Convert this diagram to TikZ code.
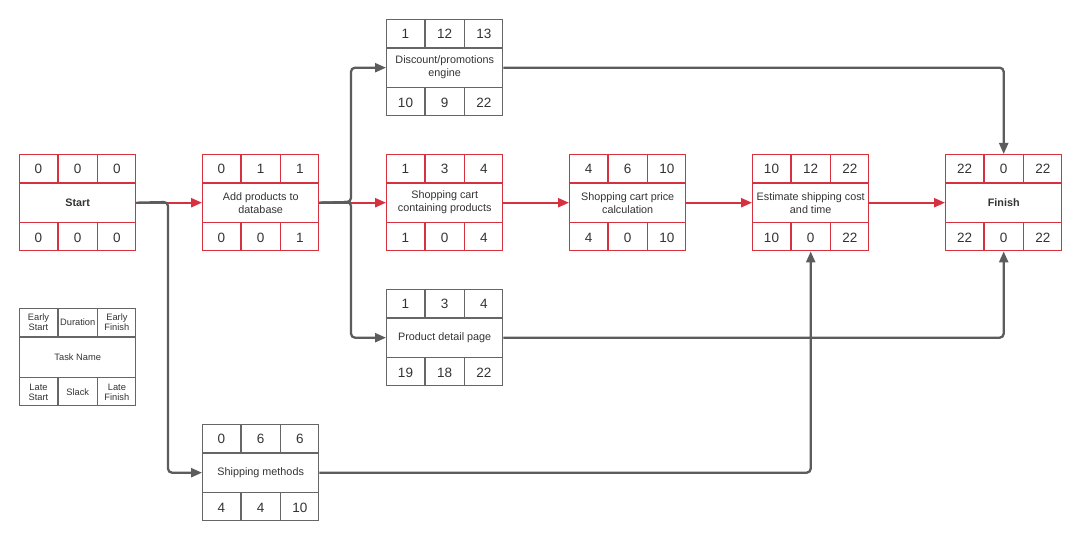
\documentclass[tikz,border=0pt]{standalone}
\usepackage{fontspec}
\setmainfont{Liberation Sans}
\usetikzlibrary{arrows.meta}
\definecolor{cred}{HTML}{D6313F}
\definecolor{cgray}{HTML}{5C5C5C}
\definecolor{cbox}{HTML}{666666}
\definecolor{ctext}{HTML}{333333}
\tikzset{
  boxframe/.style={draw=#1, line width=1.4pt, minimum width=116pt, minimum height=96pt, inner sep=0pt, anchor=north west},
  numtxt/.style={text=ctext, font=\fontsize{13.5}{15}\selectfont, inner sep=0pt},
  nametxt/.style={text=ctext, font=\fontsize{10.8}{13}\selectfont, align=center, inner sep=0pt},
  legtxt/.style={text=ctext, font=\fontsize{9.3}{10.5}\selectfont, align=center, inner sep=0pt},
  redarrow/.style={draw=cred, line width=2.3pt, -{Triangle[length=11pt,width=9pt]}},
  grayarrow/.style={draw=cgray, line width=2.3pt, rounded corners=4pt, -{Triangle[length=11pt,width=9pt]}},
}
% #1 name, #2 x, #3 y, #4 color, #5-#7 top, #8 label
\newcommand\pbox[8]{%
  \node[boxframe=#4] (#1) at (#2,#3) {};
  \draw[draw=#4, line width=1.4pt] ([yshift=-29pt]#1.north west) -- ([yshift=-29pt]#1.north east)
     ([yshift=29pt]#1.south west) -- ([yshift=29pt]#1.south east)
     ([xshift=39pt]#1.north west) -- ++(0,-29pt)
     ([xshift=-39pt]#1.north east) -- ++(0,-29pt)
     ([xshift=39pt]#1.south west) -- ++(0,29pt)
     ([xshift=-39pt]#1.south east) -- ++(0,29pt);
  \node[nametxt] (#1-n) at (#1.center) {#8};
  \pboxnums{#1}{#5}{#6}{#7}%
}
\newcommand\pboxnums[4]{%
  \node[numtxt] (#1-a) at ([xshift=19.5pt,yshift=-14.5pt]#1.north west) {#2};
  \node[numtxt] (#1-b) at ([yshift=-14.5pt]#1.north) {#3};
  \node[numtxt] (#1-c) at ([xshift=-19.5pt,yshift=-14.5pt]#1.north east) {#4};
}
\newcommand\pboxbot[4]{%
  \node[numtxt] (#1-d) at ([xshift=19.5pt,yshift=14pt]#1.south west) {#2};
  \node[numtxt] (#1-e) at ([yshift=14pt]#1.south) {#3};
  \node[numtxt] (#1-f) at ([xshift=-19.5pt,yshift=14pt]#1.south east) {#4};
}
\begin{document}
\begin{tikzpicture}[x=1pt,y=-1pt]
\useasboundingbox[fill=white] (0,0) rectangle (1080,540);

\pbox{start}{19}{154}{cred}{0}{0}{0}{\textbf{Start}}
\pboxbot{start}{0}{0}{0}
\pbox{add}{202}{154}{cred}{0}{1}{1}{Add products to\\database}
\pboxbot{add}{0}{0}{1}
\pbox{disc}{386}{19}{cbox}{1}{12}{13}{Discount/promotions\\engine}
\pboxbot{disc}{10}{9}{22}
\pbox{cart}{386}{154}{cred}{1}{3}{4}{Shopping cart\\containing products}
\pboxbot{cart}{1}{0}{4}
\pbox{price}{569}{154}{cred}{4}{6}{10}{Shopping cart price\\calculation}
\pboxbot{price}{4}{0}{10}
\pbox{est}{752}{154}{cred}{10}{12}{22}{Estimate shipping cost\\and time}
\pboxbot{est}{10}{0}{22}
\pbox{fin}{945}{154}{cred}{22}{0}{22}{\textbf{Finish}}
\pboxbot{fin}{22}{0}{22}
\pbox{detail}{386}{289}{cbox}{1}{3}{4}{Product detail page}
\pboxbot{detail}{19}{18}{22}
\pbox{ship}{202}{424}{cbox}{0}{6}{6}{Shipping methods}
\pboxbot{ship}{4}{4}{10}

% legend
\node[boxframe=cbox, minimum height=97pt] (leg) at (19,308) {};
\draw[draw=cbox, line width=1.4pt] ([yshift=-29pt]leg.north west) -- ([yshift=-29pt]leg.north east)
     ([yshift=29pt]leg.south west) -- ([yshift=29pt]leg.south east)
     ([xshift=39pt]leg.north west) -- ++(0,-29pt)
     ([xshift=-39pt]leg.north east) -- ++(0,-29pt)
     ([xshift=39pt]leg.south west) -- ++(0,29pt)
     ([xshift=-39pt]leg.south east) -- ++(0,29pt);
\node[legtxt] (leg-a) at ([xshift=19.5pt,yshift=-14pt]leg.north west) {Early\\Start};
\node[legtxt] (leg-b) at ([yshift=-14pt]leg.north) {Duration};
\node[legtxt] (leg-c) at ([xshift=-19.5pt,yshift=-14pt]leg.north east) {Early\\Finish};
\node[legtxt] (leg-n) at (leg.center) {Task Name};
\node[legtxt] (leg-d) at ([xshift=19.5pt,yshift=14pt]leg.south west) {Late\\Start};
\node[legtxt] (leg-e) at ([yshift=14pt]leg.south) {Slack};
\node[legtxt] (leg-f) at ([xshift=-19.5pt,yshift=14pt]leg.south east) {Late\\Finish};

% critical path (red)
\draw[redarrow] (start.east) -- (add.west);
\draw[redarrow] (add.east) -- (cart.west);
\draw[redarrow] (cart.east) -- (price.west);
\draw[redarrow] (price.east) -- (est.west);
\draw[redarrow] (est.east) -- (fin.west);

% gray connectors
\coordinate (j1) at (168,202);
\coordinate (j2) at (351,202);
\draw[grayarrow] (start.east) -- (j1) |- (ship.west);
\draw[grayarrow] (add.east) -- (j2) |- (disc.west);
\draw[grayarrow] (add.east) -- (j2) |- (detail.west);
\draw[grayarrow] (disc.east) -| (fin.north);
\draw[grayarrow] (detail.east) -| (fin.south);
\draw[grayarrow] (ship.east) -| (est.south);
\end{tikzpicture}
\end{document}
